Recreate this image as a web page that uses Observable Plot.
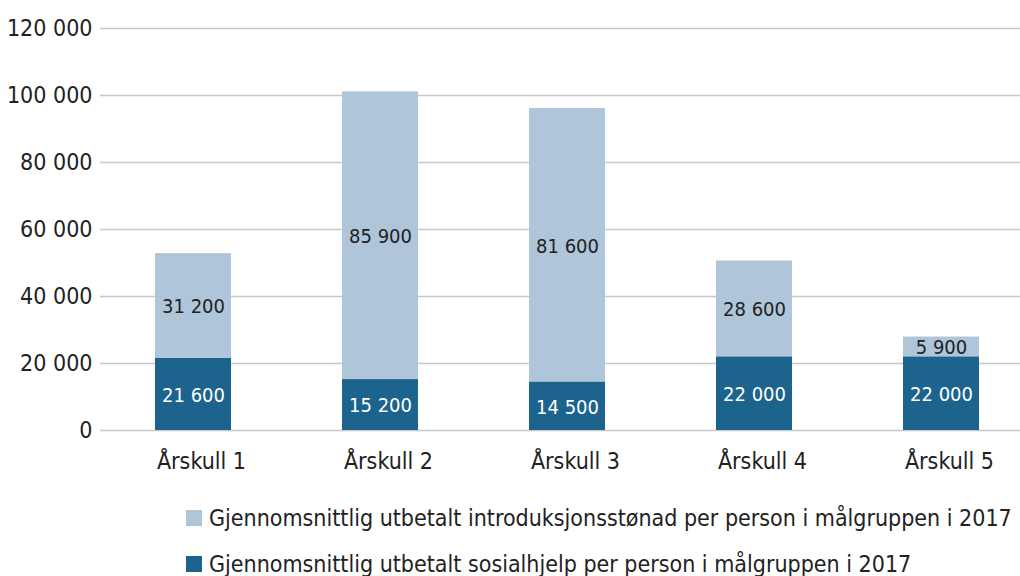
<!DOCTYPE html>
<html><head><meta charset="utf-8">
<script src="https://cdn.jsdelivr.net/npm/d3@7"></script>
<script src="https://cdn.jsdelivr.net/npm/@observablehq/plot@0.6"></script>
<style>
html,body{margin:0;padding:0;background:#fff;overflow:hidden;width:1020px;height:576px;}
#wrap{position:relative;width:1020px;height:576px;overflow:hidden;font-family:"DejaVu Sans Condensed","DejaVu Sans",sans-serif;}
#chart{position:absolute;left:0;top:0;width:1040px;}
#chart svg{max-width:none !important;}
.leg{position:absolute;left:186px;height:16px;display:flex;align-items:center;white-space:nowrap;font-size:23px;color:#222;}
.sw{width:16px;height:16px;margin-right:7px;display:inline-block;flex:none;}
</style></head>
<body><div id="wrap"><div id="chart"></div>
<div class="leg" style="top:510px"><span class="sw" style="background:#afc5da"></span><span id="l1"></span></div>
<div class="leg" style="top:556px"><span class="sw" style="background:#1c638e"></span><span id="l2"></span></div>
</div>
<script>
const categories = ["Årskull 1","Årskull 2","Årskull 3","Årskull 4","Årskull 5"];
const sosialhjelp = [21600, 15200, 14500, 22000, 22000];
const introduksjon = [31200, 85900, 81600, 28600, 5900];
const seriesNames = ["Gjennomsnittlig utbetalt introduksjonsstønad per person i målgruppen i 2017",
                     "Gjennomsnittlig utbetalt sosialhjelp per person i målgruppen i 2017"];
const yTicks = [0, 20000, 40000, 60000, 80000, 100000, 120000];

const fmt = v => d3.format(",")(v).replace(/,/g, " ");
const data = [];
categories.forEach((c, i) => {
  data.push({cat: c, series: "sos", value: sosialhjelp[i], order: 0});
  data.push({cat: c, series: "intro", value: introduksjon[i], order: 1});
});
const colors = {sos: "#1c638e", intro: "#afc5da"};

const plot = Plot.plot({
  width: 1034,
  height: 480,
  marginLeft: 100,
  marginRight: 0,
  marginTop: 28,
  marginBottom: 50,
  style: {fontFamily: '"DejaVu Sans Condensed","DejaVu Sans",sans-serif', background: "transparent"},
  x: {domain: categories, paddingInner: 0.594, paddingOuter: 0.294, label: null},
  y: {domain: [0, 120000], ticks: yTicks, label: null},
  marks: [
    Plot.ruleY(yTicks, {stroke: "#c8c8c8", strokeWidth: 1.5}),
    Plot.axisY({ticks: yTicks, tickFormat: fmt, tickSize: 0, tickPadding: 8, fontSize: 23, fill: "#222", label: null}),
    Plot.axisX({tickSize: 0, tickPadding: 22, dx: 8, fontSize: 23, fill: "#222", label: null}),
    Plot.barY(data, Plot.stackY({x: "cat", y: "value", z: "series", order: "order", fill: d => colors[d.series]})),
    Plot.text(data, Plot.stackY({x: "cat", y: "value", z: "series", order: "order", text: d => fmt(d.value),
      fill: d => d.series === "sos" ? "#fff" : "#222", fontSize: 20, dy: 1})),
  ]
});
document.getElementById("chart").appendChild(plot);
document.getElementById("l1").textContent = seriesNames[0];
document.getElementById("l2").textContent = seriesNames[1];
</script></body></html>
